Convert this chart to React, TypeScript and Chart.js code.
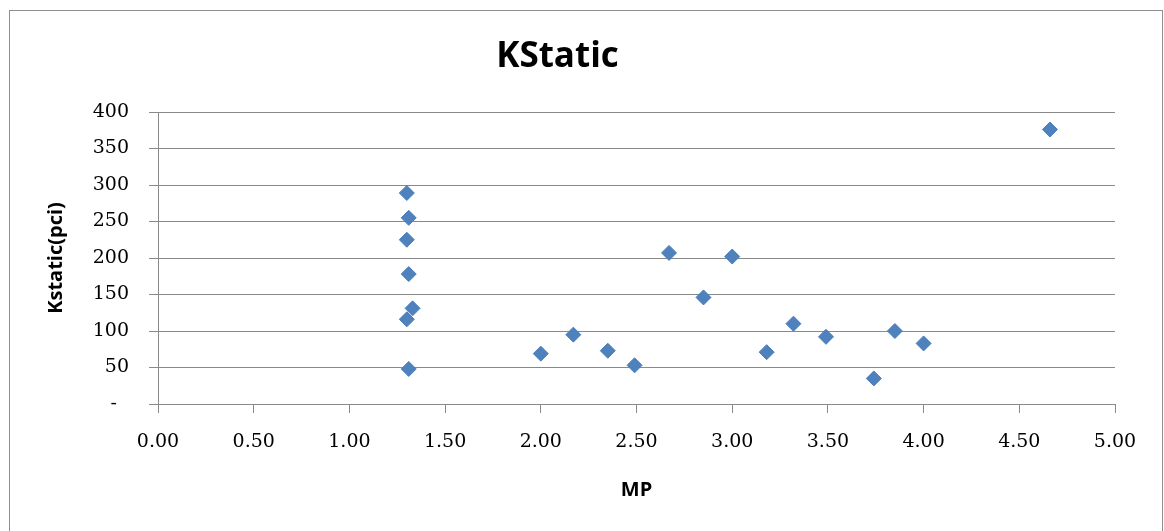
import React, { useEffect, useRef } from "react";
import { Chart, registerables } from "chart.js";

Chart.register(...registerables);

const mpValues: number[] = [1.30, 1.31, 1.30, 1.31, 1.33, 1.30, 1.31, 2.00, 2.17, 2.35, 2.49, 2.67, 2.85, 3.00, 3.18, 3.32, 3.49, 3.74, 3.85, 4.00, 4.66];
const kstaticValues: number[] = [289, 255, 225, 178, 131, 116, 48, 69, 95, 73, 53, 207, 146, 202, 71, 110, 92, 35, 100, 83, 376];

const chartTitle = "KStatic";
const xAxisTitle = "MP";
const yAxisTitle = "Kstatic(pci)";
const xTickStep = 0.5;
const yTickStep = 50;

const GRID = "#898989";

const borderPlugin = {
  id: "outerBorder",
  afterDraw(chart: any) {
    const ctx = chart.ctx;
    ctx.save();
    ctx.strokeStyle = "#8f8f8f";
    ctx.lineWidth = 1;
    ctx.strokeRect(9.5, 10.5, 1153, 540);
    ctx.restore();
  },
};

export default function App() {
  const ref = useRef<HTMLCanvasElement | null>(null);

  useEffect(() => {
    if (!ref.current) return;
    const points = mpValues.map((x, i) => ({ x, y: kstaticValues[i] }));
    const chart = new Chart(ref.current, {
      type: "scatter",
      data: {
        datasets: [
          {
            label: "KStatic",
            data: points,
            pointStyle: "rectRot",
            pointRadius: 7.5,
            pointBackgroundColor: "#4F81BD",
            pointBorderColor: "#4A7EBB",
            pointBorderWidth: 1,
          },
        ],
      },
      options: {
        responsive: false,
        animation: false,
        layout: { padding: { left: 0, right: 49, top: 0, bottom: 0 } },
        plugins: {
          legend: { display: false },
          tooltip: { enabled: false },
          title: {
            display: true,
            text: chartTitle,
            color: "#000",
            font: { family: "'Open Sans', sans-serif", size: 35, weight: "bold" },
            padding: { top: 36, bottom: 34 },
          },
        },
        scales: {
          x: {
            type: "linear",
            min: 0,
            max: 5,
            afterFit: (scale: any) => {
              scale.height = 127;
            },
            ticks: {
              stepSize: xTickStep,
              padding: 18,
              color: "#000",
              font: { family: "'DejaVu Serif', serif", size: 19 },
              callback: (v: any) => Number(v).toFixed(2),
            },
            grid: {
              drawOnChartArea: false,
              drawTicks: true,
              tickLength: 9,
              color: GRID,
            },
            border: { display: true, color: GRID },
            title: {
              display: true,
              text: xAxisTitle,
              color: "#000",
              font: { family: "'Open Sans', sans-serif", size: 20, weight: "bold" },
              padding: { top: 0, bottom: 29 },
            },
          },
          y: {
            type: "linear",
            min: 0,
            max: 400,
            afterFit: (scale: any) => {
              scale.width = 158;
            },
            ticks: {
              stepSize: yTickStep,
              padding: 20,
              color: "#000",
              font: { family: "'DejaVu Serif', serif", size: 19 },
              callback: (v: any) => (Number(v) === 0 ? "-  " : String(v)),
            },
            grid: {
              drawOnChartArea: true,
              drawTicks: true,
              tickLength: 9,
              color: GRID,
            },
            border: { display: true, color: GRID },
            title: {
              display: true,
              text: yAxisTitle,
              color: "#000",
              font: { family: "'Open Sans', sans-serif", size: 20, weight: "bold" },
              padding: { top: 44, bottom: 0 },
            },
          },
        },
      },
      plugins: [borderPlugin],
    });
    return () => chart.destroy();
  }, []);

  return (
    <div style={{ position: "absolute", left: 0, top: 0, width: 1164, height: 531, background: "#fff" }}>
      <canvas ref={ref} width={1164} height={531} />
    </div>
  );
}
